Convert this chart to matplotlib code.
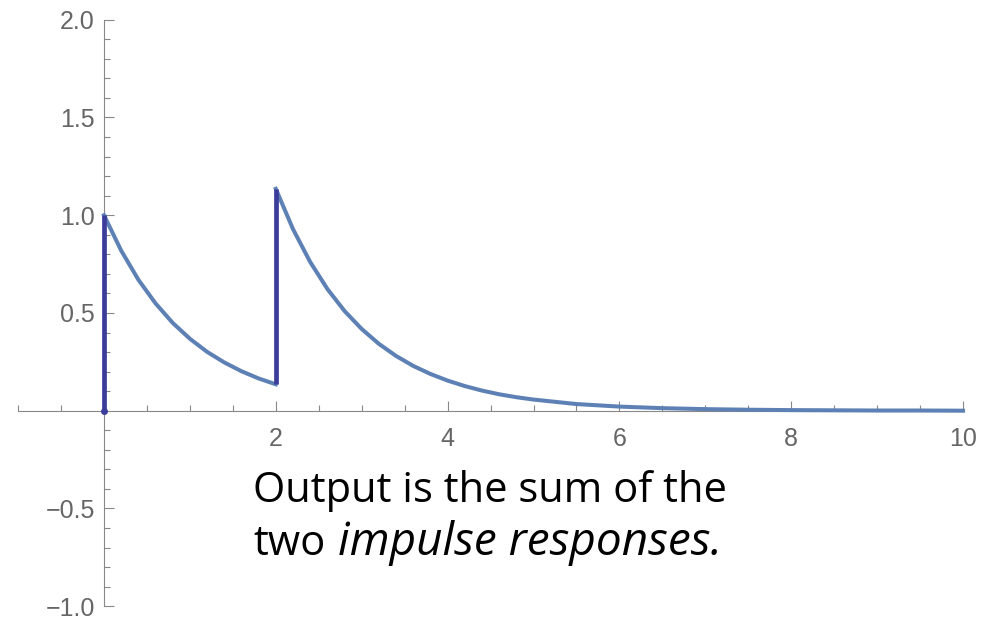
import matplotlib
matplotlib.use("Agg")
import matplotlib.pyplot as plt
from matplotlib.ticker import FixedLocator

# response to first impulse at t=0, sampled along the curve
first_t = [0.0, 0.2, 0.4, 0.6, 0.8, 1.0, 1.2, 1.4, 1.6, 1.8, 2.0]
first_y = [1.000, 0.819, 0.670, 0.549, 0.449, 0.368, 0.301, 0.247, 0.202, 0.165, 0.135]

# sum of both responses after the second impulse at t=2
second_t = [2.0, 2.2, 2.4, 2.6, 2.8, 3.0, 3.2, 3.4, 3.6, 3.8, 4.0, 4.2, 4.4, 4.6, 4.8,
            5.0, 5.5, 6.0, 6.5, 7.0, 7.5, 8.0, 8.5, 9.0, 9.5, 10.0]
second_y = [1.135, 0.929, 0.761, 0.623, 0.510, 0.418, 0.342, 0.280, 0.229, 0.188, 0.154,
            0.126, 0.103, 0.084, 0.069, 0.057, 0.034, 0.021, 0.013, 0.008, 0.005,
            0.003, 0.002, 0.001, 0.001, 0.000]

# the jumps where the impulses arrive
jump_t = [0.0, 2.0]
jump_lo = [0.0, 0.135]
jump_hi = [1.0, 1.135]

x_labels = [2, 4, 6, 8, 10]
y_labels = [-1.0, -0.5, 0.5, 1.0, 1.5, 2.0]

W, H = 993, 618
fig = plt.figure(figsize=(W / 100, H / 100), dpi=100)
ax = fig.add_axes([0, 0, 1, 1])
ax.set_facecolor("white")

# data limits chosen so the origin sits at the axis crossing
px_x, px_y = 85.9, 195.5
x0_px, y0_px = 104.0, 410.7
ax.set_xlim(-x0_px / px_x, (W - x0_px) / px_x)
ax.set_ylim(-(H - y0_px) / px_y, y0_px / px_y)

curve_col = "#5e81b5"
jump_col = "#3c3c9a"
ax.plot(first_t, first_y, color=curve_col, lw=2.9, solid_joinstyle="round", zorder=3)
ax.plot(second_t, second_y, color=curve_col, lw=2.9, solid_joinstyle="round", zorder=3)
ax.vlines(jump_t, jump_lo, jump_hi, color=jump_col, lw=3.4, zorder=4)
ax.plot([0], [0], "o", color=jump_col, ms=4, zorder=5)

axis_col = "#888888"
for side in ["top", "right"]:
    ax.spines[side].set_visible(False)
ax.spines["left"].set_position(("data", 0))
ax.spines["bottom"].set_position(("data", 0))
ax.spines["left"].set_bounds(-1, 2)
ax.spines["bottom"].set_bounds(-1, 10)
for side in ["left", "bottom"]:
    ax.spines[side].set_color(axis_col)
    ax.spines[side].set_linewidth(0.8)

ax.xaxis.set_major_locator(FixedLocator(x_labels))
ax.xaxis.set_minor_locator(FixedLocator([v * 0.5 for v in range(-2, 21) if v % 4 != 0 or v < 0]))
ax.yaxis.set_major_locator(FixedLocator(y_labels))
ax.yaxis.set_minor_locator(FixedLocator([v / 10 for v in range(-10, 21) if v % 5 != 0]))
ax.set_xticklabels([str(v) for v in x_labels])
ax.set_yticklabels([f"{v:.1f}".replace("-", "\u2212") for v in y_labels])

ax.tick_params(axis="x", which="both", direction="in", color=axis_col, width=0.8,
               labelcolor="#666666", labelsize=18, pad=11.5)
ax.tick_params(axis="y", which="both", direction="in", color=axis_col, width=0.8,
               labelcolor="#666666", labelsize=18, pad=6.5)
ax.tick_params(which="major", length=7.5)
ax.tick_params(which="minor", length=4.5)
for lab in ax.get_xticklabels() + ax.get_yticklabels():
    lab.set_family("Liberation Sans")

txt_font = "Open Sans"
fig.text(253 / W, 1 - 502 / H, "Output is the sum of the", family=txt_font,
         fontsize=30, va="baseline", ha="left")
first = fig.text(253 / W, 1 - 555 / H, "two", family=txt_font,
                 fontsize=30, va="baseline", ha="left")
fig.canvas.draw()
bb = first.get_window_extent(fig.canvas.get_renderer())
fig.text((bb.x1 + 13) / W, 1 - 555 / H, "impulse responses.", family=txt_font,
         fontsize=33, style="italic", va="baseline", ha="left")

fig.savefig("out.png", dpi=100, facecolor="white")
